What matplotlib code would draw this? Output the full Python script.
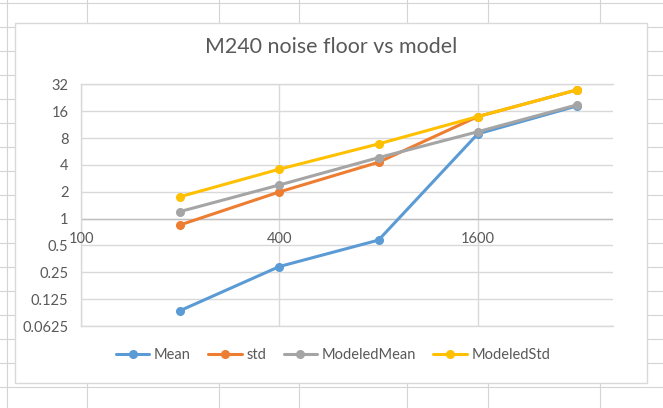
import numpy as np
import matplotlib
matplotlib.use('Agg')
import matplotlib.pyplot as plt
from matplotlib.lines import Line2D
from matplotlib.patches import Rectangle
from matplotlib.ticker import FixedLocator, NullLocator, NullFormatter

plt.rcParams['font.family'] = ['Lato', 'DejaVu Sans']

# ---------------- data ----------------
x_vals = [200, 400, 800, 1600, 3200]
mean = [0.093, 0.29, 0.574, 8.9, 18.3]
std = [0.85, 1.99, 4.28, 13.9, 27.7]
modeled_mean = [1.2, 2.38, 4.82, 9.4, 18.8]
modeled_std = [1.76, 3.58, 6.87, 13.9, 27.7]

series_names = ['Mean', 'std', 'ModeledMean', 'ModeledStd']
series_colors = ['#5B9BD5', '#ED7D31', '#A5A5A5', '#FFC000']

x_ticks = [100, 400, 1600]
y_ticks = [0.0625, 0.125, 0.25, 0.5, 1, 2, 4, 8, 16, 32]
y_ticklabels = ['0.0625', '0.125', '0.25', '0.5', '1', '2', '4', '8', '16', '32']

title = 'M240 noise floor vs model'

W, H = 663, 408
fig = plt.figure(figsize=(W / 100, H / 100), dpi=100)
txt_col = '#595959'
grid_col = '#d9d9d9'

##---------------------- spreadsheet background -----------------------------
def px_line(x0, y0, x1, y1):
    fig.add_artist(Line2D([x0 / W, x1 / W], [1 - y0 / H, 1 - y1 / H],
                          color='#d4d4d4', linewidth=0.8, zorder=0))

for k in range(17):
    yy = 3.3 + 24 * k
    px_line(0, yy, W, yy)
for xx in [7.3, 87.3, 218.6, 299, 407, 487.5, 599.5]:
    px_line(xx, 0, xx, H)

# chart area box
fig.add_artist(Rectangle((15.3 / W, 1 - 383 / H), (647.3 - 15.3) / W, (383 - 23.3) / H,
                         facecolor='white', edgecolor=grid_col, linewidth=1.0, zorder=1))

##---------------------- plot area ------------------------------------------
ax = fig.add_axes([81 / W, 1 - 326 / H, (613 - 81) / W, (326 - 84.3) / H], zorder=2)
ax.patch.set_alpha(0)

for vals, name, col in zip([mean, std, modeled_mean, modeled_std], series_names, series_colors):
    ax.plot(x_vals, vals, color=col, linewidth=2.2, marker='o', markersize=5.5,
            label=name, solid_capstyle='round', zorder=3)

ax.set_xscale('log', base=4)
ax.set_yscale('log', base=2)
ax.set_xlim(100, 1600 * 4 ** (135 / 198))
ax.set_ylim(0.0625, 32)

ax.xaxis.set_major_locator(FixedLocator(x_ticks))
ax.xaxis.set_minor_locator(NullLocator())
ax.xaxis.set_major_formatter(NullFormatter())
ax.xaxis.set_minor_formatter(NullFormatter())
ax.yaxis.set_major_locator(FixedLocator(y_ticks))
ax.yaxis.set_minor_locator(NullLocator())
ax.set_yticklabels(y_ticklabels)
ax.yaxis.set_minor_formatter(NullFormatter())
ax.tick_params(axis='y', length=0, labelsize=10.5, labelcolor=txt_col, pad=9)
ax.tick_params(axis='x', length=0, pad=0)

ax.grid(True, color=grid_col, linewidth=1.0, zorder=0)
ax.set_axisbelow(True)
ax.spines['right'].set_visible(False)
for s in ['top', 'bottom', 'left']:
    ax.spines[s].set_color(grid_col)
    ax.spines[s].set_linewidth(1.0)

# horizontal axis crosses at 1
ax.axhline(1, color='#bfbfbf', linewidth=1.0, zorder=1)
for xv in x_ticks:
    ax.annotate(str(xv), xy=(xv, 1), xytext=(0, -10), textcoords='offset points',
                ha='center', va='top', fontsize=10.5, color=txt_col)

##---------------------- title & legend -------------------------------------
fig.text(331.3 / W, 1 - 47 / H, title, ha='center', va='center', fontsize=15.4, color=txt_col)

leg = fig.legend(loc='center', bbox_to_anchor=(333 / W, 1 - 355 / H), ncol=4, frameon=False,
                 fontsize=10.5, handlelength=2.3, columnspacing=1.2, handletextpad=0.3)
for t in leg.get_texts():
    t.set_color(txt_col)

plt.savefig('out.png', dpi=100)
